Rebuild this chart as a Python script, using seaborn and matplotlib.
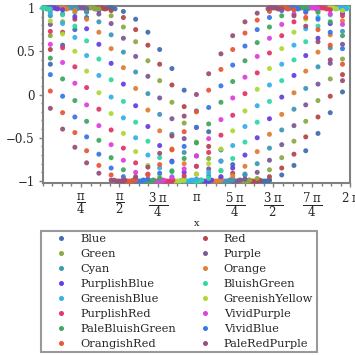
import matplotlib
matplotlib.use("Agg")
import matplotlib.pyplot as plt
from matplotlib.lines import Line2D
import numpy as np
import pandas as pd
import seaborn as sns

# shared sample positions (radians)
x_grid = [0.16, 0.41, 0.66, 0.90, 1.15, 1.40, 1.65, 1.90, 2.15, 2.39, 2.64, 2.89, 3.14,
          3.39, 3.64, 3.88, 4.13, 4.38, 4.63, 4.88, 5.13, 5.37, 5.62, 5.87, 6.12]

y_blue = [0.35, 0.57, 0.75, 0.89, 0.97, 1.00, 0.96, 0.87, 0.72, 0.52, 0.30, 0.05, -0.19,
          -0.43, -0.64, -0.81, -0.93, -0.99, -0.99, -0.93, -0.82, -0.65, -0.45, -0.21, 0.03]
y_red = [0.52, 0.72, 0.87, 0.96, 1.00, 0.97, 0.89, 0.75, 0.57, 0.35, 0.11, -0.14, -0.38,
         -0.60, -0.77, -0.91, -0.98, -1.00, -0.95, -0.85, -0.69, -0.49, -0.26, -0.02, 0.23]
y_green = [0.68, 0.84, 0.95, 1.00, 0.99, 0.91, 0.78, 0.61, 0.39, 0.16, -0.09, -0.33, -0.55,
           -0.74, -0.88, -0.97, -1.00, -0.97, -0.87, -0.73, -0.54, -0.31, -0.07, 0.18, 0.41]
y_purple = [0.81, 0.93, 0.99, 0.99, 0.93, 0.82, 0.65, 0.44, 0.21, -0.04, -0.28, -0.51, -0.71,
            -0.86, -0.96, -1.00, -0.98, -0.90, -0.76, -0.58, -0.36, -0.12, 0.12, 0.36, 0.58]
y_cyan = [0.91, 0.98, 1.00, 0.95, 0.84, 0.69, 0.49, 0.26, 0.01, -0.23, -0.46, -0.67, -0.83,
          -0.94, -0.99, -0.99, -0.92, -0.80, -0.62, -0.41, -0.17, 0.07, 0.32, 0.54, 0.73]
y_orange = [0.97, 1.00, 0.97, 0.87, 0.72, 0.53, 0.31, 0.07, -0.18, -0.42, -0.63, -0.80, -0.92,
            -0.99, -0.99, -0.94, -0.83, -0.66, -0.46, -0.23, 0.02, 0.27, 0.49, 0.69, 0.85]
y_purplishblue = [1.00, 0.98, 0.90, 0.76, 0.58, 0.36, 0.12, -0.13, -0.37, -0.59, -0.77, -0.90, -0.98,
                  -1.00, -0.95, -0.85, -0.70, -0.50, -0.28, -0.03, 0.22, 0.45, 0.65, 0.82, 0.94]
y_bluishgreen = [0.99, 0.92, 0.79, 0.62, 0.41, 0.17, -0.08, -0.32, -0.54, -0.73, -0.88, -0.97, -1.00,
                 -0.97, -0.88, -0.74, -0.55, -0.32, -0.08, 0.16, 0.40, 0.61, 0.79, 0.92, 0.99]
y_greenishblue = [0.94, 0.82, 0.66, 0.45, 0.22, -0.03, -0.27, -0.50, -0.70, -0.85, -0.95, -1.00, -0.98,
                  -0.90, -0.77, -0.59, -0.37, -0.13, 0.11, 0.35, 0.57, 0.76, 0.89, 0.98, 1.00]
y_greenishyellow = [0.85, 0.70, 0.50, 0.27, 0.02, -0.22, -0.45, -0.66, -0.82, -0.94, -0.99, -0.99, -0.92,
                    -0.80, -0.63, -0.42, -0.19, 0.06, 0.30, 0.53, 0.72, 0.87, 0.96, 1.00, 0.97]
y_purplishred = [0.73, 0.54, 0.32, 0.08, -0.17, -0.41, -0.62, -0.79, -0.92, -0.99, -1.00, -0.94, -0.83,
                 -0.67, -0.47, -0.24, 0.01, 0.25, 0.48, 0.68, 0.84, 0.95, 1.00, 0.98, 0.91]
y_vividpurple = [0.58, 0.37, 0.13, -0.12, -0.36, -0.58, -0.76, -0.90, -0.98, -1.00, -0.96, -0.86, -0.71,
                 -0.51, -0.29, -0.04, 0.20, 0.44, 0.65, 0.81, 0.93, 0.99, 0.99, 0.93, 0.81]
y_palebluishgreen = [0.42, 0.18, -0.07, -0.31, -0.53, -0.73, -0.87, -0.97, -1.00, -0.97, -0.89, -0.74, -0.56,
                     -0.34, -0.09, 0.15, 0.39, 0.60, 0.78, 0.91, 0.98, 1.00, 0.95, 0.84, 0.68]
y_vividblue = [0.23, -0.02, -0.26, -0.49, -0.69, -0.85, -0.95, -1.00, -0.98, -0.91, -0.78, -0.60, -0.38,
               -0.15, 0.10, 0.34, 0.56, 0.75, 0.89, 0.97, 1.00, 0.96, 0.87, 0.72, 0.53]
y_orangishred = [0.04, -0.21, -0.44, -0.65, -0.82, -0.93, -0.99, -0.99, -0.93, -0.81, -0.64, -0.43, -0.20,
                 0.05, 0.29, 0.52, 0.71, 0.86, 0.96, 1.00, 0.98, 0.89, 0.75, 0.57, 0.35]
y_paleredpurple = [-0.16, -0.40, -0.61, -0.79, -0.91, -0.99, -1.00, -0.95, -0.84, -0.68, -0.48, -0.25, 0.00,
                   0.24, 0.47, 0.68, 0.84, 0.94, 1.00, 0.99, 0.91, 0.79, 0.61, 0.40, 0.16]

# extra points packed around each peak (first five) and trough (last five)
band_y = [0.99, 1.0, 1.0, 1.0, 0.99, -0.99, -1.0, -1.0, -1.0, -0.99]
band_blue = [1.26, 1.32, 1.37, 1.42, 1.48, 4.41, 4.47, 4.52, 4.57, 4.63]
band_red = [1.07, 1.13, 1.18, 1.23, 1.29, 4.21, 4.27, 4.32, 4.37, 4.43]
band_green = [0.87, 0.93, 0.98, 1.03, 1.09, 4.01, 4.07, 4.12, 4.17, 4.23]
band_purple = [0.68, 0.74, 0.79, 0.84, 0.90, 3.82, 3.88, 3.93, 3.98, 4.04]
band_cyan = [0.48, 0.54, 0.59, 0.64, 0.70, 3.62, 3.68, 3.73, 3.78, 3.84]
band_orange = [0.28, 0.34, 0.39, 0.44, 0.50, 3.42, 3.48, 3.53, 3.58, 3.64]
band_purplishblue = [0.09, 0.15, 0.20, 0.25, 0.31, 3.23, 3.29, 3.34, 3.39, 3.45]
band_bluishgreen = [0.11, 0.05, 0.0, 6.23, 6.17, 3.03, 3.09, 3.14, 3.19, 3.25]
band_greenishblue = [5.98, 6.04, 6.09, 6.14, 6.20, 2.84, 2.90, 2.95, 3.00, 3.06]
band_greenishyellow = [5.78, 5.84, 5.89, 5.94, 6.00, 2.64, 2.70, 2.75, 2.80, 2.86]
band_purplishred = [5.58, 5.64, 5.69, 5.74, 5.80, 2.44, 2.50, 2.55, 2.60, 2.66]
band_vividpurple = [5.39, 5.45, 5.50, 5.55, 5.61, 2.25, 2.31, 2.36, 2.41, 2.47]
band_palebluishgreen = [5.19, 5.25, 5.30, 5.35, 5.41, 2.05, 2.11, 2.16, 2.21, 2.27]
band_vividblue = [5.00, 5.06, 5.11, 5.16, 5.22, 1.85, 1.91, 1.96, 2.01, 2.07]
band_orangishred = [4.80, 4.86, 4.91, 4.96, 5.02, 1.66, 1.72, 1.77, 1.82, 1.88]
band_paleredpurple = [4.60, 4.66, 4.71, 4.76, 4.82, 1.46, 1.52, 1.57, 1.62, 1.68]

series_names = ["Blue", "Red", "Green", "Purple", "Cyan", "Orange", "PurplishBlue",
                "BluishGreen", "GreenishBlue", "GreenishYellow", "PurplishRed",
                "VividPurple", "PaleBluishGreen", "VividBlue", "OrangishRed", "PaleRedPurple"]
series_colors = ["#4070b0", "#b5474b", "#8caa46", "#7d5a96", "#4098b8", "#e08038",
                 "#6840e0", "#30d8a8", "#38b0e8", "#b0d838", "#e03868", "#e040e0",
                 "#40a860", "#3878e8", "#e85838", "#985078"]
series_y = [y_blue, y_red, y_green, y_purple, y_cyan, y_orange, y_purplishblue,
            y_bluishgreen, y_greenishblue, y_greenishyellow, y_purplishred,
            y_vividpurple, y_palebluishgreen, y_vividblue, y_orangishred, y_paleredpurple]
series_band = [band_blue, band_red, band_green, band_purple, band_cyan, band_orange,
               band_purplishblue, band_bluishgreen, band_greenishblue, band_greenishyellow,
               band_purplishred, band_vividpurple, band_palebluishgreen, band_vividblue,
               band_orangishred, band_paleredpurple]

x_tick_labels = [r"$\dfrac{\mathrm{π}}{4}$", r"$\dfrac{\mathrm{π}}{2}$",
                 r"$\dfrac{3\;\mathrm{π}}{4}$", r"$\mathrm{π}$",
                 r"$\dfrac{5\;\mathrm{π}}{4}$", r"$\dfrac{3\;\mathrm{π}}{2}$",
                 r"$\dfrac{7\;\mathrm{π}}{4}$", r"$2\;\mathrm{π}$"]
y_ticks = [-1, -0.5, 0, 0.5, 1]
y_tick_labels = ["−1", "−0.5", "0", "0.5", "1"]

rows = []
for name, ys, band in zip(series_names, series_y, series_band):
    for xv, yv in zip(x_grid, ys):
        rows.append((name, xv, yv))
    for xv, yv in zip(band, band_y):
        rows.append((name, xv, yv))
df = pd.DataFrame(rows, columns=["series", "x", "y"])

sns.set_theme(style="white")
plt.rcParams["font.family"] = ["DejaVu Serif"]
plt.rcParams["mathtext.fontset"] = "dejavuserif"

W = 355
fig = plt.figure(figsize=(3.55, 3.55), dpi=100)
ax = fig.add_axes([42.5 / W, 1 - 183 / W, 308 / W, 177 / W])

palette = dict(zip(series_names, series_colors))
sns.scatterplot(data=df, x="x", y="y", hue="series", hue_order=series_names,
                palette=palette, s=13, linewidth=0, alpha=0.95, legend=False,
                ax=ax, clip_on=False, zorder=3)

ax.set_xlim(0, 2 * np.pi)
ax.set_ylim(-1.023, 1.023)
gray = "#808080"
for side in ["left", "right", "top", "bottom"]:
    ax.spines[side].set_color(gray)
    ax.spines[side].set_linewidth(1.5)
ax.set_xticks(np.pi * np.arange(1, 9) / 4)
ax.set_xticklabels(x_tick_labels)
ax.set_xticks(np.pi * np.arange(0, 33) / 16, minor=True)
ax.set_yticks(y_ticks)
ax.set_yticklabels(y_tick_labels)
ax.set_yticks(np.arange(-10, 11) / 10, minor=True)
ax.tick_params(which="both", direction="out", color=gray, width=1.0,
               bottom=True, left=True, top=False, right=False, labelsize=8.5)
ax.tick_params(which="major", length=3)
ax.tick_params(which="minor", length=1.8)
ax.tick_params(axis="y", pad=2.5)
ax.tick_params(axis="x", pad=3)
ax.set_xlabel("x", fontsize=7, labelpad=0)
ax.set_ylabel("")

# legend laid out row-wise in two columns
order = list(range(0, 16, 2)) + list(range(1, 16, 2))
handles = [Line2D([], [], linestyle="none", marker="o", markersize=3.6,
                  markeredgewidth=0, color=series_colors[i]) for i in order]
labels = [series_names[i] for i in order]
leg = fig.legend(handles, labels, loc="upper left", ncol=2, mode="expand",
                 bbox_to_anchor=(41 / W, 1 - 230.5 / W, 276 / W, 0),
                 fontsize=8.2, frameon=True, fancybox=False, edgecolor=gray,
                 borderpad=0.33, labelspacing=0.43, handlelength=2.9,
                 handletextpad=0.2, borderaxespad=0, columnspacing=1.0)
leg.get_frame().set_linewidth(1.5)

fig.savefig("out.png", dpi=100)
